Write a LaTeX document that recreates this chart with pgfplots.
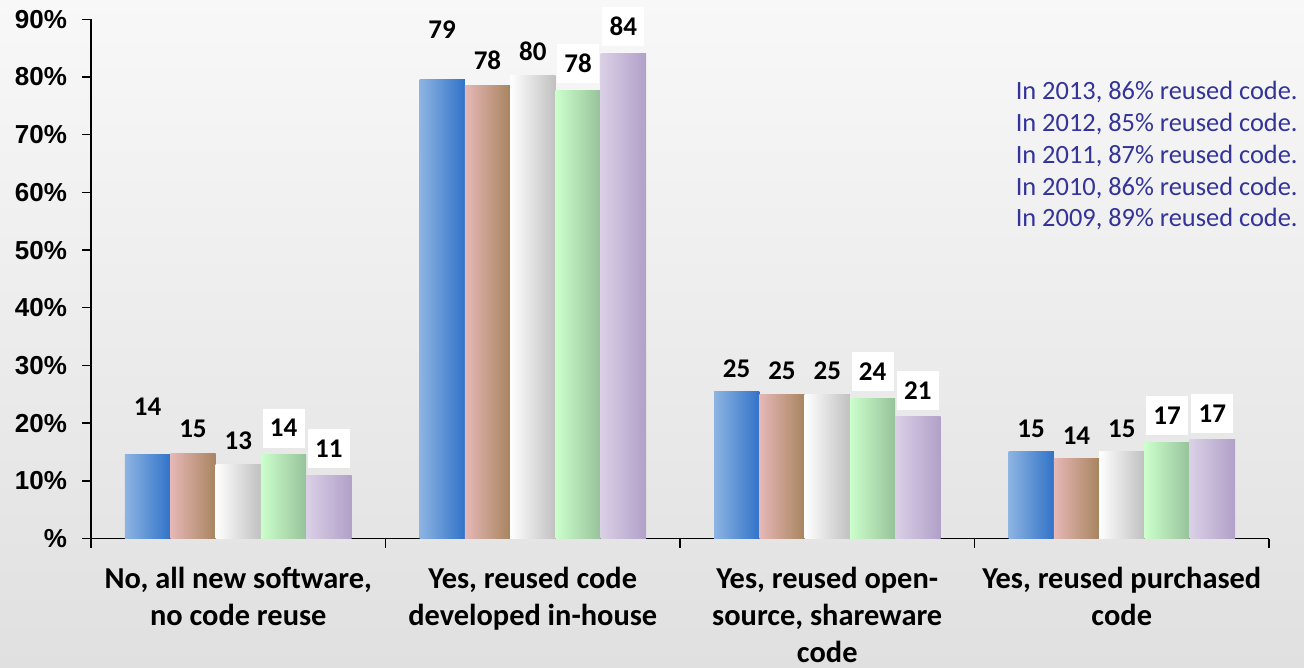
\documentclass[border=0pt]{standalone}
\usepackage{fontspec}
\setmainfont{Carlito}
\newfontfamily\arialfont{Liberation Sans}
\usepackage{pgfplots}
\usepackage{pgfplotstable}
\pgfplotsset{compat=1.18}

\definecolor{bgtop}{HTML}{F8F8F8}
\definecolor{bgbot}{HTML}{E0E0E0}
\definecolor{bluel}{HTML}{8DB4E2}
\definecolor{bluer}{HTML}{3173C8}
\definecolor{pinkl}{HTML}{E6B8B7}
\definecolor{pinkr}{HTML}{A8845F}
\definecolor{whitel}{HTML}{FFFFFF}
\definecolor{whiter}{HTML}{C0C0C0}
\definecolor{greenl}{HTML}{CCFFCC}
\definecolor{greenr}{HTML}{97C29A}
\definecolor{purpl}{HTML}{DAD0E6}
\definecolor{purpr}{HTML}{B1A0C8}
\definecolor{annot}{HTML}{333399}

\pgfplotstableread{
x y lab off
0 14.5 14 24.2
1 79.6 79 24.9
2 25.4 25 11.4
3 15.0 15 11.8
}\sa
\pgfplotstableread{
x y lab off
0 14.8 15 12.0
1 78.6 78 12.5
2 25.0 25 12.0
3 13.8 14 11.5
}\sb
\pgfplotstableread{
x y lab off
0 12.9 13 11.7
1 80.2 80 12.2
2 24.9 25 12.0
3 15.0 15 11.8
}\sc
\pgfplotstableread{
x y lab off
0 14.5 14 13.4
1 77.7 78 13.4
2 24.3 24 13.4
3 16.6 17 13.4
}\sd
\pgfplotstableread{
x y lab off
0 11.0 11 13.3
1 84.1 84 13.3
2 21.1 21 13.3
3 17.1 17 13.3
}\se

% one bar per \addplot so that each bar gets its own left-to-right shading
\newcommand{\barseries}[5]{%
  \pgfplotsinvokeforeach{0,1,2,3}{%
    \addplot[draw=none, left color=#3, right color=#4, bar shift=#2, forget plot,
      restrict expr to domain={\coordindex}{##1:##1},
      every node near coord/.append style={#5}]
      table[x=x,y=y,meta=lab]{#1};
  }%
}

\begin{document}
\begin{tikzpicture}
\shade[top color=bgtop, bottom color=bgbot] (-45.5pt,-64.75pt) rectangle (606.5pt,269.25pt);
\begin{axis}[
  at={(0,0)}, anchor=south west,
  scale only axis,
  width=589pt, height=259.6pt,
  xmin=-0.5, xmax=3.5, ymin=0, ymax=90,
  enlargelimits=false,
  clip=false,
  axis x line*=bottom, axis y line*=left,
  axis line style={-, line width=0.7pt, black},
  ybar=0pt, bar width=22.65pt,
  tick align=outside,
  major tick length=4.5pt,
  tick style={line width=0.7pt, black},
  xtick={-0.5,0.5,1.5,2.5,3.5},
  x tick label as interval,
  xticklabels={{No, all new software,\\no code reuse},{Yes, reused code\\developed in-house},{Yes, reused open-\\source, shareware\\code},{Yes, reused purchased\\code}},
  xticklabel style={align=center, anchor=north, yshift=-6.5pt, font=\fontsize{15.2}{18.3}\selectfont\bfseries},
  ytick={0,10,20,30,40,50,60,70,80,90},
  yticklabels={\%,10\%,20\%,30\%,40\%,50\%,60\%,70\%,80\%,90\%},
  yticklabel style={xshift=-4pt, font=\arialfont\fontsize{13}{15}\selectfont\bfseries},
  nodes near coords,
  point meta=explicit symbolic,
  visualization depends on={\thisrow{off} \as \myoff},
  every node near coord/.append style={anchor=center, yshift=\myoff pt, inner sep=0pt, minimum width=21pt, minimum height=19.5pt, font=\fontsize{13.5}{15}\selectfont\bfseries, text=black},
]
\barseries{\sa}{-45.3pt}{bluel}{bluer}{}
\barseries{\sb}{-22.65pt}{pinkl}{pinkr}{}
\barseries{\sc}{0pt}{whitel}{whiter}{}
\barseries{\sd}{22.65pt}{greenl}{greenr}{fill=white}
\barseries{\se}{45.3pt}{purpl}{purpr}{fill=white}
\end{axis}
\begin{scope}[every node/.style={anchor=base east, inner sep=0pt, text=annot, font=\fontsize{13.2}{15.8}\selectfont}]
\node at (603.5pt,219.25pt) {In 2013, 86\% reused code.};
\node at (603.5pt,203.4pt) {In 2012, 85\% reused code.};
\node at (603.5pt,187.55pt) {In 2011, 87\% reused code.};
\node at (603.5pt,171.7pt) {In 2010, 86\% reused code.};
\node at (603.5pt,155.85pt) {In 2009, 89\% reused code.};
\end{scope}
\pgfresetboundingbox
\useasboundingbox (-45.5pt,-64.75pt) rectangle (606.5pt,269.25pt);
\end{tikzpicture}
\end{document}
